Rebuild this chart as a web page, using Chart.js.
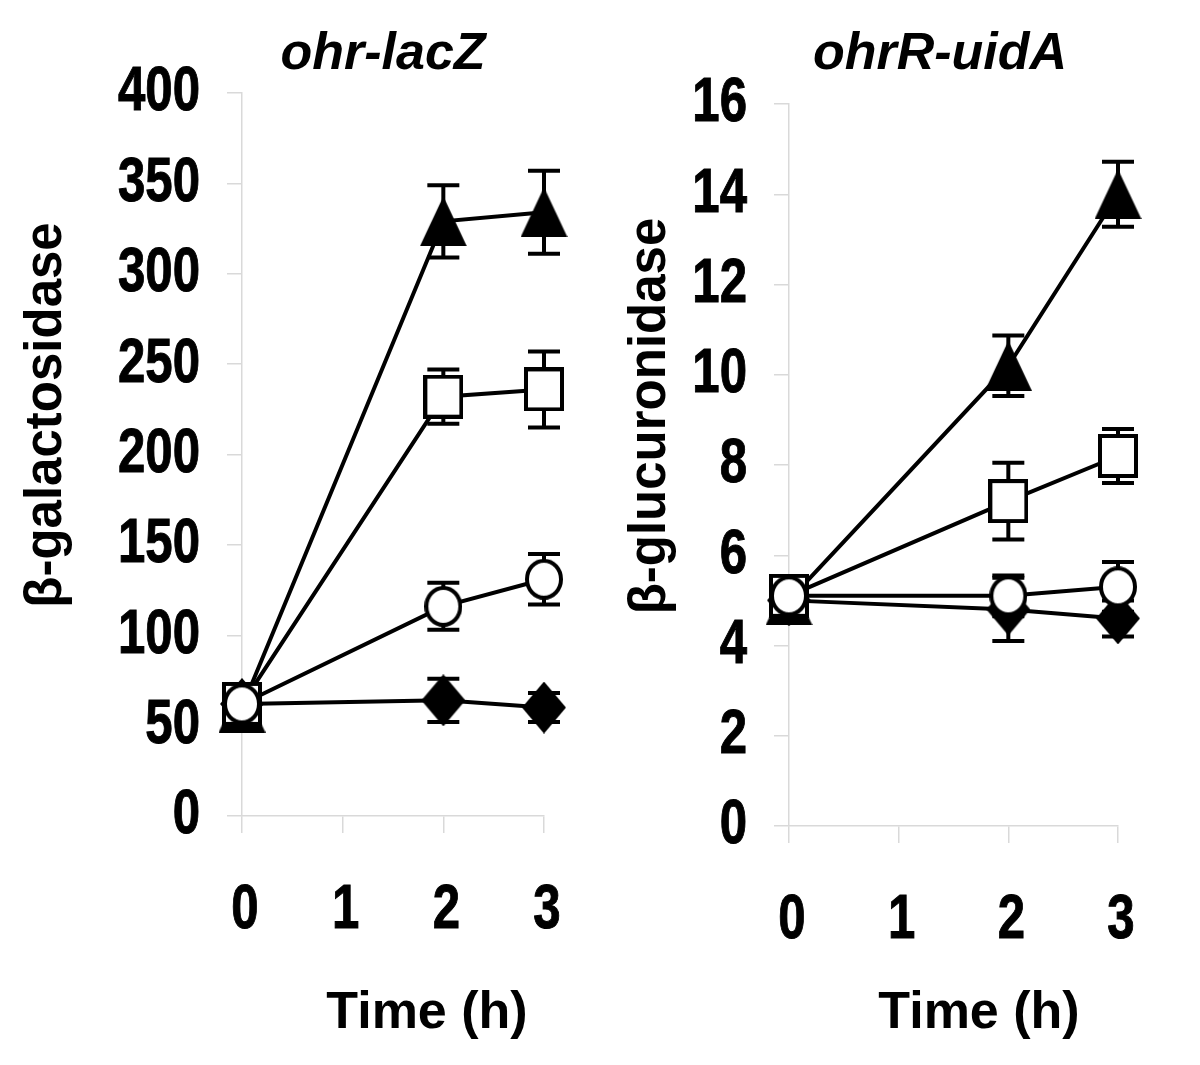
<!DOCTYPE html>
<html>
<head>
<meta charset="utf-8">
<script src="https://cdn.jsdelivr.net/npm/chart.js@4.4.0/dist/chart.umd.min.js"></script>
<style>
  body { margin: 0; background: #fff; }
  .panel { position: absolute; top: 0; width: 600px; height: 1065px; }
</style>
</head>
<body>
<div class="panel" style="left:0"><canvas id="chartLacZ"></canvas></div>
<div class="panel" style="left:600px"><canvas id="chartUidA"></canvas></div>
<script>
// tiempos (h)
const tiempos = [0, 2, 3];

// ohr-lacZ  (beta-galactosidasa)
const lacZ_circulo = [62, 116, 131];
const lacZ_circuloErr = [4, 13, 14];
const lacZ_cuadrado = [62, 232, 236];
const lacZ_cuadradoErr = [4, 15, 21];
const lacZ_triangulo = [60, 329, 334];
const lacZ_trianguloErr = [3, 20, 23];
const lacZ_rombo = [62, 64, 60];
const lacZ_romboErr = [4, 12, 8];

// ohrR-uidA  (beta-glucuronidasa)
const uidA_circulo = [5.1, 5.1, 5.3];
const uidA_circuloErr = [0.4, 0.45, 0.55];
const uidA_cuadrado = [5.1, 7.2, 8.2];
const uidA_cuadradoErr = [0.4, 0.85, 0.6];
const uidA_triangulo = [5.0, 10.2, 14.0];
const uidA_trianguloErr = [0.3, 0.67, 0.72];
const uidA_rombo = [5.0, 4.8, 4.6];
const uidA_romboErr = [0.3, 0.7, 0.4];

const fuente = "'Liberation Sans', Arial, sans-serif";
const gris = '#d9d9d9';

// marcadores dibujados en un canvas pequeño
function marcador(tipo, w, h) {
  const c = document.createElement('canvas');
  c.width = w; c.height = h;
  const ctx = c.getContext('2d');
  ctx.fillStyle = '#000';
  ctx.strokeStyle = '#000';
  ctx.lineWidth = 4;
  ctx.beginPath();
  if (tipo === 'triangulo') {
    ctx.moveTo(w / 2, 0); ctx.lineTo(w, h); ctx.lineTo(0, h); ctx.closePath();
    ctx.fill();
  } else if (tipo === 'rombo') {
    ctx.moveTo(w / 2, 0); ctx.lineTo(w, h / 2); ctx.lineTo(w / 2, h); ctx.lineTo(0, h / 2); ctx.closePath();
    ctx.fill();
  } else if (tipo === 'cuadrado') {
    ctx.rect(2, 2, w - 4, h - 4);
    ctx.fillStyle = '#fff'; ctx.fill(); ctx.stroke();
  } else {
    ctx.ellipse(w / 2, h / 2, w / 2 - 2, h / 2 - 2, 0, 0, Math.PI * 2);
    ctx.fillStyle = '#fff'; ctx.fill(); ctx.stroke();
  }
  return c;
}

const mCirculo = marcador('circulo', 38, 41);
const mCuadrado = marcador('cuadrado', 40, 44);
const mTriangulo = marcador('triangulo', 47, 50);
const mRombo = marcador('rombo', 44, 52);

// barras de error, detras de las lineas
const barrasError = {
  id: 'barrasError',
  beforeDatasetsDraw(chart) {
    const ctx = chart.ctx;
    const x = chart.scales.x, y = chart.scales.y;
    ctx.save();
    ctx.strokeStyle = '#000';
    ctx.lineWidth = 4;
    chart.data.datasets.forEach(ds => {
      ds.data.forEach((p, i) => {
        const px = x.getPixelForValue(p.x);
        const arriba = y.getPixelForValue(p.y + ds.errores[i]);
        const abajo = y.getPixelForValue(p.y - ds.errores[i]);
        ctx.beginPath();
        ctx.moveTo(px, arriba); ctx.lineTo(px, abajo);
        ctx.moveTo(px - 16, arriba); ctx.lineTo(px + 16, arriba);
        ctx.moveTo(px - 16, abajo); ctx.lineTo(px + 16, abajo);
        ctx.stroke();
      });
    });
    ctx.restore();
  }
};

// etiquetas de los ticks en letra estrecha (no hay Arial Narrow instalada)
const ticksEstrechos = {
  id: 'ticksEstrechos',
  afterDraw(chart) {
    const ctx = chart.ctx;
    const x = chart.scales.x, y = chart.scales.y;
    ctx.save();
    ctx.fillStyle = '#000';
    ctx.strokeStyle = '#000';
    ctx.lineWidth = 1;
    ctx.font = 'bold 63px ' + fuente;
    ctx.textBaseline = 'middle';
    ctx.textAlign = 'right';
    y.ticks.forEach((t, i) => {
      ctx.save();
      ctx.translate(y.right - 42, y.getPixelForTick(i));
      ctx.scale(0.78, 1);
      ctx.fillText(t.label, 0, 0);
      ctx.strokeText(t.label, 0, 0);
      ctx.restore();
    });
    ctx.textAlign = 'center';
    x.ticks.forEach((t, i) => {
      ctx.save();
      ctx.translate(x.getPixelForTick(i) + 3, x.top + 95);
      ctx.scale(0.78, 1);
      ctx.fillText(t.label, 0, 0);
      ctx.strokeText(t.label, 0, 0);
      ctx.restore();
    });
    ctx.restore();
  }
};

// titulos del grafico y de los ejes
const textos = {
  id: 'textos',
  afterDraw(chart, args, o) {
    const ctx = chart.ctx;
    ctx.save();
    ctx.fillStyle = '#000';
    ctx.textAlign = 'center';
    ctx.textBaseline = 'alphabetic';
    ctx.font = 'italic bold 52px ' + fuente;
    ctx.fillText(o.titulo, o.tituloPos[0], o.tituloPos[1]);
    ctx.font = 'bold 52px ' + fuente;
    ctx.fillText('Time (h)', o.ejeXPos[0], o.ejeXPos[1]);
    ctx.translate(o.ejeYPos[0], o.ejeYPos[1]);
    ctx.rotate(-Math.PI / 2);
    ctx.font = 'bold 51px ' + fuente;
    ctx.textBaseline = 'middle';
    ctx.fillText(o.ejeY, 0, 0);
    ctx.restore();
  }
};

function serie(valores, errores, imagen) {
  return {
    data: tiempos.map((t, i) => ({ x: t, y: valores[i] })),
    errores: errores,
    borderColor: '#000',
    borderWidth: 4,
    pointStyle: imagen,
    pointRadius: 20,
    clip: false
  };
}

function crearGrafica(id, series, yMax, yPaso, caja, t) {
  return new Chart(document.getElementById(id), {
    type: 'line',
    data: { datasets: series },
    options: {
      responsive: true,
      maintainAspectRatio: false,
      animation: false,
      layout: { padding: { left: 0, top: caja.top, right: caja.right, bottom: 0 } },
      plugins: { legend: { display: false }, tooltip: { enabled: false }, textos: t },
      scales: {
        x: {
          type: 'linear', min: 0, max: 3,
          ticks: { stepSize: 1, color: 'rgba(0,0,0,0)', font: { family: fuente, weight: 'bold', size: 40 } },
          grid: { drawOnChartArea: false, tickLength: 17, color: gris, lineWidth: 1.5 },
          border: { color: gris, width: 1.5 },
          afterFit: s => { s.height = caja.alto; }
        },
        y: {
          min: 0, max: yMax,
          ticks: { stepSize: yPaso, color: 'rgba(0,0,0,0)', font: { family: fuente, weight: 'bold', size: 40 } },
          grid: { drawOnChartArea: false, tickLength: 15, color: gris, lineWidth: 1.5 },
          border: { color: gris, width: 1.5 },
          afterFit: s => { s.width = caja.ancho; }
        }
      }
    },
    plugins: [barrasError, ticksEstrechos, textos]
  });
}

crearGrafica('chartLacZ', [
  serie(lacZ_circulo, lacZ_circuloErr, mCirculo),
  serie(lacZ_cuadrado, lacZ_cuadradoErr, mCuadrado),
  serie(lacZ_triangulo, lacZ_trianguloErr, mTriangulo),
  serie(lacZ_rombo, lacZ_romboErr, mRombo)
], 400, 50, { top: 93, right: 56, ancho: 242, alto: 249 },
  { titulo: 'ohr-lacZ', tituloPos: [383, 69], ejeY: 'β-galactosidase', ejeYPos: [47, 415], ejeXPos: [427, 1028] });

crearGrafica('chartUidA', [
  serie(uidA_circulo, uidA_circuloErr, mCirculo),
  serie(uidA_cuadrado, uidA_cuadradoErr, mCuadrado),
  serie(uidA_triangulo, uidA_trianguloErr, mTriangulo),
  serie(uidA_rombo, uidA_romboErr, mRombo)
], 16, 2, { top: 104, right: 82, ancho: 189, alto: 239 },
  { titulo: 'ohrR-uidA', tituloPos: [340, 69], ejeY: 'β-glucuronidase', ejeYPos: [51, 416], ejeXPos: [379, 1028] });
</script>
</body>
</html>
